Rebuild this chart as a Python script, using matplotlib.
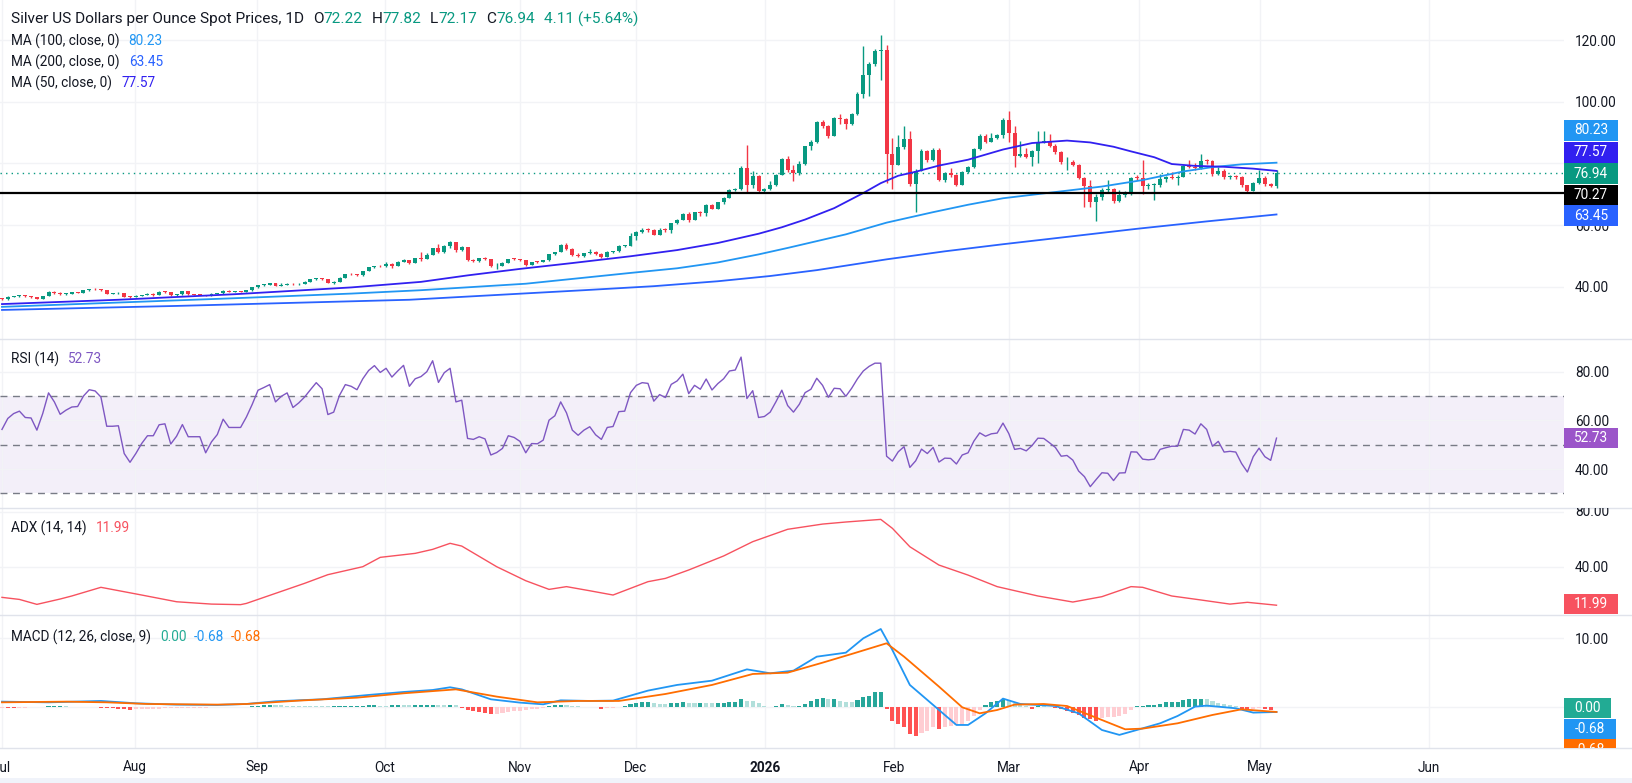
# 白银日线图：K线 + 均线 + RSI + ADX + MACD
import numpy as np
import matplotlib
matplotlib.use('Agg')
import matplotlib.pyplot as plt
from matplotlib.patches import Rectangle
from matplotlib.transforms import Bbox, TransformedBbox

plt.rcParams['font.family'] = ['Roboto', 'DejaVu Sans']

# ---------------- data ----------------
closes = [
    36.0, 36.8, 36.9, 37.0, 36.95, 36.6, 36.2, 37.0, 38.3, 38.0,
    37.6, 37.8, 38.2, 38.0, 38.9, 39.2, 39.15, 38.9, 37.8, 37.85,
    38.0, 36.8, 36.75, 37.0, 37.3, 37.7, 37.3, 38.3, 38.2, 37.2,
    37.6, 38.5, 37.6, 37.5, 37.4, 37.0, 37.8, 37.85, 38.8, 38.4,
    38.6, 38.4, 38.9, 39.8, 40.5, 40.7, 41.1, 40.3, 40.7, 41.0,
    40.75, 41.0, 41.6, 42.4, 42.7, 42.5, 41.3, 41.6, 43.0, 44.1,
    44.0, 43.7, 45.1, 46.3, 46.7, 46.6, 47.5, 46.9, 48.1, 48.6,
    47.7, 49.2, 49.1, 50.3, 52.5, 51.2, 53.3, 54.4, 51.8, 52.9,
    48.6, 48.5, 49.2, 49.0, 46.6, 46.9, 47.7, 49.0, 48.9, 48.6,
    47.2, 48.1, 48.0, 48.6, 50.6, 51.3, 53.4, 52.2, 50.3, 49.9,
    50.9, 51.4, 50.5, 49.8, 51.4, 51.45, 53.3, 53.35, 56.6, 57.8,
    58.5, 58.4, 56.9, 58.5, 58.4, 60.6, 61.7, 63.7, 61.7, 64.1,
    63.9, 66.6, 65.3, 67.4, 68.9, 71.5, 71.7, 78.6, 72.9, 76.0,
    71.0, 71.8, 72.9, 76.3, 81.4, 78.0, 76.9, 79.9, 85.5, 86.8,
    93.5, 92.0, 89.0, 94.6, 94.4, 92.8, 96.1, 102.6, 108.8, 112.3,
    116.5, 116.6, 83.1, 79.6, 85.2, 87.9, 73.4, 77.7, 84.1, 81.0,
    84.4, 74.5, 76.9, 76.3, 73.1, 77.3, 78.7, 84.8, 89.0, 87.1,
    88.3, 89.1, 94.0, 89.9, 82.3, 83.2, 82.0, 84.1, 87.1, 87.2,
    85.8, 83.6, 80.3, 80.6, 79.5, 75.2, 72.7, 67.6, 69.0, 71.4,
    71.6, 67.9, 69.8, 70.5, 75.4, 75.3, 72.7, 72.9, 73.0, 75.0,
    75.5, 75.4, 75.7, 79.2, 78.8, 78.4, 80.9, 80.7, 76.6, 77.6,
    75.5, 75.8, 75.5, 72.9, 71.2, 73.6, 75.2, 73.4, 72.6, 76.94,
]
highs = [
    36.3, 37.0, 37.1, 37.2, 37.3, 37.0, 36.7, 37.1, 38.5, 38.7,
    38.2, 38.0, 38.3, 38.4, 39.0, 39.4, 39.5, 39.3, 39.0, 38.1,
    38.2, 38.1, 37.1, 37.2, 37.5, 37.9, 37.9, 38.5, 38.5, 38.3,
    37.8, 38.6, 38.6, 37.8, 37.7, 37.5, 37.9, 38.1, 38.9, 38.9,
    38.8, 38.7, 39.0, 39.9, 40.7, 40.9, 41.3, 41.2, 41.2, 41.2,
    41.2, 41.2, 41.8, 42.6, 42.9, 42.9, 42.6, 41.8, 43.1, 44.3,
    44.4, 44.2, 45.2, 46.5, 46.9, 47.0, 47.9, 47.8, 48.4, 49.0,
    48.8, 49.4, 51.4, 51.0, 52.6, 54.0, 53.4, 55.0, 54.5, 53.3,
    53.0, 48.9, 49.4, 49.5, 49.1, 47.7, 48.1, 49.1, 49.3, 49.0,
    48.7, 48.2, 48.5, 48.7, 50.7, 51.4, 53.8, 54.2, 52.6, 50.8,
    51.0, 52.1, 51.6, 50.9, 51.5, 51.7, 53.4, 53.6, 57.3, 58.1,
    58.9, 59.0, 58.6, 59.2, 58.9, 60.8, 62.1, 64.0, 64.3, 64.2,
    64.5, 66.8, 67.0, 67.6, 69.2, 71.7, 71.9, 79.0, 86.1, 77.4,
    76.2, 72.1, 74.3, 76.5, 81.7, 82.4, 79.5, 80.8, 85.8, 87.5,
    93.8, 94.1, 92.3, 95.0, 96.0, 94.7, 96.4, 103.0, 117.9, 113.0,
    117.0, 121.7, 118.5, 88.2, 89.3, 92.2, 90.6, 78.3, 84.6, 84.5,
    85.1, 85.0, 77.3, 78.5, 76.6, 77.6, 79.3, 85.0, 89.4, 89.6,
    89.8, 89.6, 94.6, 96.9, 92.0, 87.2, 85.0, 84.4, 90.5, 90.5,
    89.4, 86.2, 83.9, 82.2, 81.2, 79.8, 75.6, 74.7, 70.1, 72.0,
    74.7, 72.0, 71.4, 71.0, 75.6, 76.2, 81.2, 73.8, 73.5, 76.6,
    76.0, 77.2, 76.3, 79.4, 81.2, 80.0, 83.1, 81.3, 81.0, 78.8,
    78.3, 76.2, 76.2, 75.8, 73.1, 73.9, 77.8, 76.0, 73.8, 77.82,
]
lows = [
    35.8, 35.8, 36.6, 36.8, 36.7, 36.4, 36.0, 36.1, 36.9, 37.8,
    37.4, 37.5, 37.7, 37.9, 37.9, 38.8, 38.9, 38.7, 37.6, 37.6,
    37.8, 36.7, 36.5, 36.6, 36.9, 37.2, 37.1, 37.2, 38.0, 37.1,
    37.1, 37.5, 37.5, 37.3, 37.2, 36.9, 36.9, 37.7, 37.8, 38.3,
    38.3, 38.2, 38.3, 38.8, 39.7, 40.4, 40.6, 40.1, 40.2, 40.6,
    40.6, 40.6, 40.9, 41.5, 42.3, 42.3, 41.2, 41.0, 41.5, 42.9,
    43.8, 43.5, 43.6, 45.0, 46.0, 46.3, 46.5, 46.0, 46.8, 47.9,
    47.4, 47.6, 48.5, 49.0, 50.2, 50.8, 51.0, 52.6, 51.4, 51.5,
    48.4, 48.1, 48.1, 48.6, 46.4, 45.8, 46.8, 47.6, 48.6, 48.4,
    46.9, 47.0, 47.8, 47.9, 48.5, 50.4, 51.2, 52.0, 50.0, 49.6,
    49.6, 50.5, 50.3, 49.2, 49.7, 51.1, 51.3, 53.0, 53.2, 55.2,
    57.6, 57.9, 56.7, 56.7, 57.9, 57.5, 60.3, 61.5, 61.0, 61.5,
    63.1, 62.8, 65.1, 65.2, 67.0, 68.7, 71.0, 71.5, 70.6, 72.0,
    70.6, 70.7, 71.4, 72.6, 76.1, 77.3, 74.3, 76.3, 79.6, 84.2,
    86.5, 91.4, 88.3, 88.8, 92.8, 91.3, 92.5, 95.8, 101.2, 102.0,
    111.5, 107.0, 73.6, 71.7, 79.4, 84.6, 72.6, 64.1, 77.5, 80.4,
    80.8, 74.3, 74.0, 75.7, 72.8, 72.9, 77.0, 78.5, 84.5, 86.5,
    86.9, 87.8, 88.2, 87.0, 78.7, 82.0, 81.6, 79.0, 80.0, 86.5,
    85.4, 83.2, 79.9, 77.9, 79.0, 74.8, 65.8, 65.8, 61.3, 68.0,
    70.8, 67.3, 67.6, 69.2, 69.8, 74.6, 70.0, 71.6, 68.3, 72.5,
    74.0, 74.8, 73.0, 75.5, 78.4, 78.0, 78.2, 79.7, 76.0, 76.4,
    75.0, 74.9, 75.0, 72.5, 70.4, 71.0, 73.3, 72.6, 72.3, 72.17,
]
first_open = 36.1

# 均线（取样点）
ma50_x = [0, 20, 40, 60, 72, 80, 89, 98, 108, 116, 123, 130, 134, 138, 143, 148, 151,
          154, 157, 161, 166, 172, 177, 183, 187, 191, 194, 198, 201, 205, 210, 215, 219]
ma50_y = [34.4, 35.8, 37.6, 39.8, 41.6, 43.7, 45.8, 47.7, 49.9, 51.9, 54.2, 57.2, 59.3,
          61.8, 65.5, 70.4, 73.6, 76.0, 77.3, 79.3, 81.2, 84.5, 86.6, 87.4, 86.8, 85.4,
          83.9, 82.0, 79.8, 79.2, 78.9, 78.3, 77.57]
ma100_x = [0, 20, 40, 60, 72, 90, 108, 116, 123, 130, 135, 145, 152, 160, 166, 172, 180,
           189, 196, 203, 208, 213, 219]
ma100_y = [33.5, 34.9, 36.3, 37.8, 38.9, 41.0, 44.5, 46.0, 47.9, 50.5, 52.6, 57.0, 60.8,
           64.2, 66.6, 68.7, 70.5, 72.5, 74.6, 77.4, 78.8, 79.7, 80.23]
ma200_x = [0, 30, 70, 100, 112, 123, 132, 140, 152, 162, 172, 184, 195, 207, 219]
ma200_y = [32.5, 33.8, 35.8, 38.9, 40.2, 41.8, 43.5, 45.4, 48.9, 51.5, 53.8, 56.4, 58.8,
           61.2, 63.45]

rsi = [
    56.3, 60.8, 62.8, 63.8, 61.2, 61.0, 56.0, 62.8, 71.3, 67.6,
    62.5, 64.2, 65.5, 65.7, 70.0, 72.6, 72.1, 69.6, 57.6, 57.6,
    57.8, 46.4, 42.8, 46.4, 50.5, 53.7, 53.7, 58.2, 58.6, 50.3,
    53.5, 58.3, 53.3, 53.3, 53.3, 46.7, 51.2, 54.2, 60.5, 57.1,
    57.1, 57.1, 61.4, 66.6, 72.4, 73.5, 74.7, 67.6, 69.9, 71.3,
    65.3, 67.2, 69.6, 72.6, 75.5, 73.0, 62.4, 63.4, 70.3, 74.7,
    74.0, 72.6, 77.1, 80.5, 82.5, 79.7, 81.4, 77.8, 80.3, 82.6,
    74.0, 77.1, 78.0, 80.0, 84.5, 75.6, 79.6, 81.4, 67.6, 68.3,
    52.6, 52.2, 53.3, 52.4, 45.8, 46.8, 48.5, 53.7, 53.0, 51.4,
    46.7, 50.5, 50.4, 51.9, 60.1, 61.9, 67.6, 63.1, 56.0, 53.9,
    56.0, 57.4, 54.1, 52.2, 57.1, 57.5, 63.6, 63.8, 71.4, 74.4,
    75.5, 75.2, 67.9, 70.6, 69.4, 74.8, 76.2, 79.0, 71.0, 74.4,
    72.8, 77.0, 72.5, 75.1, 77.1, 80.3, 80.7, 86.0, 69.0, 72.2,
    61.2, 61.6, 63.4, 67.7, 72.4, 66.1, 63.4, 66.6, 71.4, 72.8,
    77.3, 74.4, 69.5, 73.2, 73.0, 69.9, 73.2, 77.1, 80.3, 82.2,
    83.5, 83.5, 45.3, 43.3, 47.1, 49.2, 40.7, 43.4, 48.2, 46.4,
    48.9, 42.9, 44.5, 44.4, 42.1, 45.8, 46.7, 51.5, 54.9, 53.5,
    54.5, 54.8, 58.9, 54.6, 48.1, 48.5, 47.5, 49.7, 52.7, 52.6,
    50.8, 48.9, 45.3, 45.6, 43.7, 39.2, 36.9, 32.8, 35.7, 38.5,
    38.3, 35.3, 38.4, 38.5, 47.1, 47.0, 44.1, 43.8, 44.1, 48.1,
    48.8, 49.4, 49.4, 56.3, 56.0, 54.4, 58.6, 56.3, 49.4, 51.4,
    47.0, 47.3, 47.0, 42.3, 38.8, 45.1, 48.6, 45.1, 43.6, 52.73,
]

adx_x = [0, 3, 6, 10, 12, 17, 21, 24, 30, 36, 41, 42, 47, 52, 56, 62, 65, 71, 74, 77,
         79, 85, 90, 94, 97, 101, 105, 111, 114, 118, 124, 129, 135, 141, 145, 151,
         153, 156, 161, 166, 171, 178, 184, 189, 194, 196, 201, 206, 211, 214, 219]
adx_y = [17.7, 16.2, 12.6, 16.5, 18.7, 25.0, 21.8, 19.4, 14.5, 12.8, 12.4, 13.3, 20.6,
         27.9, 34.2, 40.0, 46.8, 49.7, 52.6, 57.0, 55.0, 40.0, 29.8, 23.5, 25.5, 22.5,
         19.4, 29.1, 31.5, 37.6, 47.8, 58.2, 67.2, 71.0, 72.5, 74.4, 67.9, 54.5, 41.2,
         33.9, 25.5, 18.7, 14.3, 18.2, 25.5, 25.0, 18.7, 15.8, 12.8, 14.1, 11.99]

macd_x = [0, 8, 17, 23, 30, 37, 42, 47, 55, 63, 69, 74, 77, 79, 84, 89, 93, 96, 101, 105,
          111, 116, 122, 128, 132, 136, 140, 145, 148, 151, 153, 156, 160, 164, 166, 169,
          172, 175, 178, 181, 185, 189, 192, 195, 199, 202, 205, 207, 212, 215, 219]
macd_y = [0.82, 0.72, 0.92, 0.58, 0.39, 0.34, 0.48, 0.87, 1.16, 1.79, 2.22, 2.51, 2.9,
          2.6, 1.16, 0.68, 0.43, 1.01, 0.92, 0.97, 2.42, 3.24, 3.86, 5.5, 4.93, 5.31,
          7.34, 7.92, 10.0, 11.35, 8.3, 3.24, 0.34, -2.56, -2.56, -0.87, 1.26, 0.48,
          0.34, 0.19, -0.87, -3.29, -4.0, -3.29, -2.32, -1.26, 0.1, 0.24, -0.14, -0.77,
          -0.68]
signal_x = [0, 11, 18, 25, 37, 42, 51, 61, 69, 78, 85, 92, 99, 106, 114, 122, 129, 135,
            141, 146, 152, 155, 161, 165, 168, 171, 174, 179, 183, 189, 193, 196, 202,
            208, 213, 219]
signal_y = [0.72, 0.82, 0.72, 0.48, 0.39, 0.48, 0.97, 1.4, 2.03, 2.6, 1.55, 0.72, 0.92,
            0.92, 1.93, 3.24, 4.83, 5.02, 6.47, 7.73, 9.28, 7.34, 3.0, 0.0, -0.87, -0.39,
            0.39, 0.48, 0.19, -1.84, -3.19, -3.09, -2.32, -1.11, -0.29, -0.68]
hist = [
    -0.05, -0.08, -0.1, -0.08, -0.05, 0.02, 0.05, 0.1, 0.12, 0.15,
    0.15, 0.12, 0.1, 0.08, 0.05, 0.02, -0.02, -0.08, -0.12, -0.15,
    -0.2, -0.28, -0.32, -0.3, -0.25, -0.22, -0.2, -0.18, -0.15, -0.12,
    -0.1, -0.08, -0.06, -0.05, -0.04, -0.03, -0.02, -0.02, 0.02, 0.04,
    0.06, 0.08, 0.1, 0.15, 0.22, 0.28, 0.32, 0.3, 0.28, 0.26,
    0.24, 0.22, 0.2, 0.18, 0.16, 0.15, 0.14, 0.14, 0.15, 0.16,
    0.18, 0.2, 0.24, 0.28, 0.3, 0.26, 0.24, 0.28, 0.32, 0.3,
    0.28, 0.3, 0.34, 0.36, 0.38, 0.33, 0.3, 0.32, 0.28, -0.1,
    -0.35, -0.55, -0.7, -0.85, -0.95, -0.9, -0.82, -0.7, -0.6, -0.5,
    -0.38, -0.28, -0.18, -0.08, 0.2, 0.3, 0.4, 0.35, 0.25, 0.2,
    0.1, 0.05, 0.02, -0.2, -0.05, -0.03, 0.1, 0.25, 0.45, 0.6,
    0.72, 0.77, 0.63, 0.53, 0.48, 0.63, 0.64, 0.77, 0.63, 0.62,
    0.64, 0.63, 0.62, 0.64, 0.65, 0.72, 0.77, 1.2, 0.92, 0.9,
    0.58, 0.2, 0.1, 0.2, 0.48, 0.29, 0.2, 0.24, 0.48, 0.97,
    1.26, 1.35, 1.16, 1.18, 0.97, 0.77, 0.75, 1.06, 1.45, 1.69,
    2.22, 2.24, -0.24, -1.98, -2.46, -2.9, -3.86, -4.1, -3.67, -3.38,
    -2.8, -3.1, -2.8, -2.7, -2.56, -2.4, -1.93, -1.26, -0.39, 0.34,
    0.77, 0.92, 1.26, 1.06, 0.58, 0.29, 0.15, -0.2, 0.2, 0.15,
    0.1, -0.1, -0.3, -0.58, -0.77, -1.1, -1.5, -1.74, -1.98, -1.6,
    -1.45, -1.35, -1.26, -0.97, -0.39, 0.15, 0.24, 0.34, 0.39, 0.48,
    0.72, 0.77, 0.82, 1.06, 1.16, 1.2, 1.22, 1.16, 0.87, 0.58,
    0.43, 0.29, 0.15, -0.2, -0.3, -0.2, -0.15, -0.3, -0.39, 0.0,
]

month_pos = [0, 22.85, 43.8, 65.8, 89.0, 108.9, 131.1, 153.3, 173.0, 195.4, 216.2, 245.2]
month_lab = ['Jul', 'Aug', 'Sep', 'Oct', 'Nov', 'Dec', '2026', 'Feb', 'Mar', 'Apr', 'May', 'Jun']

# ---------------- style ----------------
W, H = 1632, 783
AXR = 1564
UP, DN = '#089981', '#f23645'
TXT = '#131722'
GRID = '#f2f3f6'
SEP = '#e0e3eb'
C50, C100, C200 = '#3120f0', '#2196f3', '#2962ff'
FS = 9.8

fig = plt.figure(figsize=(W / 100, H / 100), dpi=100)
fig.patch.set_facecolor('white')


def panel(top, bottom, ylim, yticks, ylabels):
    ax = fig.add_axes([0, 1 - bottom / H, AXR / W, (bottom - top) / H])
    ax.set_xlim(-0.34, 268.4)
    ax.set_ylim(*ylim)
    for s in ax.spines.values():
        s.set_visible(False)
    ax.set_xticks(month_pos)
    ax.set_xticklabels([])
    ax.yaxis.tick_right()
    ax.set_yticks(yticks)
    ax.set_yticklabels(ylabels)
    ax.tick_params(axis='y', length=0, pad=8, labelsize=FS, labelcolor=TXT)
    ax.tick_params(axis='x', length=0)
    ax.grid(True, color=GRID, linewidth=1)
    ax.set_axisbelow(True)
    return ax


# 80.00 在价格轴上被数值标签完全盖住，只留网格线
ax_p = panel(0, 339, (23.08, 132.97), [40, 60, 80, 100, 120],
             ['40.00', '60.00', '', '100.00', '120.00'])
ax_r = panel(339, 508, (24.03, 93.43), [40, 60, 80], ['40.00', '60.00', '80.00'])
ax_a = panel(508, 615, (4.87, 82.69), [40, 80], ['40.00', ''])
ax_m = panel(615, 748, (-5.90, 13.38), [0, 10], ['', '10.00'])

# K线
n = len(closes)
x = np.arange(n)
o = np.array([first_open] + closes[:-1])
c = np.array(closes)
hi = np.array(highs)
lo = np.array(lows)
col = np.where(c >= o, UP, DN)
ax_p.vlines(x, lo, hi, colors=col, linewidth=1, zorder=3)
body = np.maximum(np.abs(c - o), 0.3)
ax_p.bar(x, body, bottom=np.minimum(o, c), width=0.68, color=col, linewidth=0, zorder=3)

ax_p.plot(ma200_x, ma200_y, color=C200, lw=1.3, zorder=4)
ax_p.plot(ma100_x, ma100_y, color=C100, lw=1.3, zorder=4)
ax_p.plot(ma50_x, ma50_y, color=C50, lw=1.3, zorder=4)
ax_p.axhline(76.94, color=UP, lw=1, ls=(0, (1, 3)), zorder=2)
ax_p.axhline(70.27, color='black', lw=1.6, zorder=5)

# RSI
ax_r.axhspan(30, 70, color='#7e57c2', alpha=0.09, lw=0, zorder=0)
for lv in (70, 50, 30):
    ax_r.axhline(lv, color='#787b86', lw=1, ls=(0, (5, 4)), zorder=1)
ax_r.plot(x, rsi, color='#7e57c2', lw=1.0, zorder=3)

# ADX
ax_a.plot(adx_x, adx_y, color='#f7525f', lw=1.0, zorder=3)

# MACD
hcol = []
for i, v in enumerate(hist):
    prev = hist[i - 1] if i else v
    if v >= 0:
        hcol.append('#26a69a' if v >= prev else '#b2dfdb')
    else:
        hcol.append('#ff5252' if v < prev else '#ffcdd2')
ax_m.bar(x, hist, width=0.7, color=hcol, linewidth=0, zorder=2)
ax_m.plot(macd_x, macd_y, color='#2196f3', lw=1.3, zorder=3)
ax_m.plot(signal_x, signal_y, color='#ff6d00', lw=1.3, zorder=3)

# 时间轴
ax_m.set_xticklabels(month_lab)
ax_m.tick_params(axis='x', pad=9, labelsize=FS, labelcolor=TXT)
ax_m.get_xticklabels()[6].set_fontweight('bold')

# 分隔线与底部条
for yy in (339, 508, 615, 748):
    fig.add_artist(plt.Line2D([0, 1], [1 - yy / H] * 2, color=SEP, lw=1))
fig.add_artist(Rectangle((0, 0), 1, 5 / H, transform=fig.transFigure, color='#f0f3fa', lw=0))

# ADX 80.00（上沿被截）
clip_adx = TransformedBbox(Bbox([[0, 0], [1, 1 - 508 / H]]), fig.transFigure)
t = fig.text(1575 / W, 1 - 512.5 / H, '80.00', color=TXT, fontsize=FS, va='center', ha='left')
t.set_clip_box(clip_adx)
t.set_clip_on(True)


# 右侧数值标签
def vbox(yc, text, fc, x1=1618, clip=None):
    r = Rectangle((AXR / W, 1 - (yc + 10.3) / H), (x1 - AXR) / W, 20.6 / H,
                  transform=fig.transFigure, color=fc, lw=0, zorder=5)
    fig.add_artist(r)
    tt = fig.text((AXR + x1) / 2 / W, 1 - yc / H, text, color='white', fontsize=FS,
                  ha='center', va='center', zorder=6)
    if clip is not None:
        r.set_clip_box(clip)
        r.set_clip_on(True)
        tt.set_clip_box(clip)
        tt.set_clip_on(True)


vbox(130.3, '80.23', C100)
vbox(152.3, '77.57', C50)
vbox(173.7, '76.94', UP)
vbox(194.8, '70.27', 'black')
vbox(215.7, '63.45', C200)
vbox(438, '52.73', '#9b55c9')
vbox(604, '11.99', '#f7525f')
vbox(708, '0.00', '#22ab94', x1=1611)
vbox(729, '-0.68', '#2196f3', x1=1616)
vbox(749.5, '-0.68', '#ff6d00', x1=1616,
     clip=TransformedBbox(Bbox([[0, 1 - 748 / H], [1, 1]]), fig.transFigure))

# 左上角图例文字
renderer = fig.canvas.get_renderer()


def chain(x0, y0, parts, size=FS):
    xx = x0
    for s, colr, gap in parts:
        tx = fig.text(xx / W, 1 - y0 / H, s, color=colr, fontsize=size, va='center', ha='left')
        xx += tx.get_window_extent(renderer=renderer).width + gap


G = '#089981'
chain(11, 19, [('Silver US Dollars per Ounce Spot Prices, 1D', TXT, 9),
               ('O', TXT, 0), ('72.22', G, 9), ('H', TXT, 0), ('77.82', G, 9),
               ('L', TXT, 0), ('72.17', G, 9), ('C', TXT, 0), ('76.94', G, 9),
               ('4.11 (+5.64%)', G, 0)], size=11.1)
chain(11, 41, [('MA (100, close, 0)', TXT, 9), ('80.23', C100, 0)])
chain(11, 62, [('MA (200, close, 0)', TXT, 9), ('63.45', C200, 0)])
chain(11, 83, [('MA (50, close, 0)', TXT, 9), ('77.57', C50, 0)])
chain(11, 359, [('RSI (14)', TXT, 9), ('52.73', '#7e57c2', 0)])
chain(11, 528, [('ADX (14, 14)', TXT, 9), ('11.99', '#f7525f', 0)])
chain(11, 637, [('MACD (12, 26, close, 9)', TXT, 9), ('0.00', '#22ab94', 7),
                ('-0.68', '#2196f3', 7), ('-0.68', '#ff6d00', 0)])

fig.savefig('out.png', dpi=100, facecolor='white')
